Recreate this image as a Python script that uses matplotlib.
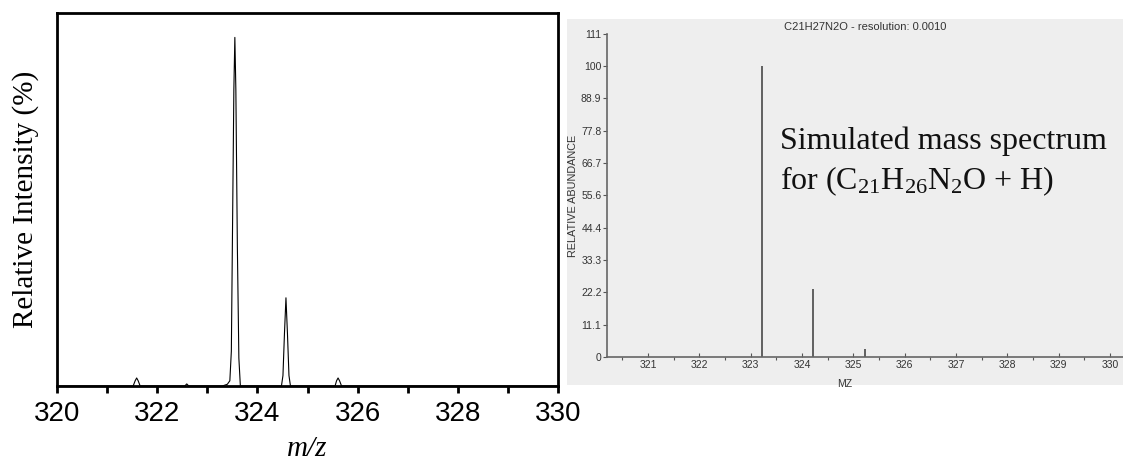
import matplotlib
matplotlib.use("Agg")
import matplotlib.pyplot as plt
from matplotlib.patches import Rectangle
from matplotlib.ticker import MultipleLocator

plt.rcParams['mathtext.fontset'] = 'custom'
plt.rcParams['mathtext.rm'] = 'Liberation Serif'
plt.rcParams['mathtext.it'] = 'Liberation Serif:italic'

meas_mz = [320.0, 321.52, 321.56, 321.59, 321.62, 321.66,
           322.55, 322.59, 322.63,
           323.30, 323.40, 323.45, 323.48, 323.50, 323.53, 323.55, 323.57, 323.60, 323.63, 323.66,
           324.48, 324.51, 324.54, 324.57, 324.60, 324.63, 324.66,
           325.55, 325.58, 325.61, 325.64, 325.68, 330.0]
meas_int = [0.0, 0.0, 1.5, 2.3, 1.5, 0.0,
            0.0, 0.6, 0.0,
            0.0, 0.5, 1.5, 10.0, 40.0, 85.0, 100.0, 85.0, 40.0, 8.0, 0.0,
            0.0, 3.0, 15.0, 25.3, 15.0, 3.0, 0.0,
            0.0, 1.5, 2.3, 1.5, 0.0, 0.0]

# simulated isotope sticks (right)
sim_mz = [323.21, 324.21, 325.22]
sim_abund = [100.0, 23.4, 2.6]
sim_yticks = [0, 11.1, 22.2, 33.3, 44.4, 55.6, 66.7, 77.8, 88.9, 100, 111]
sim_ytick_labels = ['0', '11.1', '22.2', '33.3', '44.4', '55.6', '66.7', '77.8', '88.9', '100', '111']

W, H = 1123, 461
fig = plt.figure(figsize=(W / 100, H / 100), dpi=100)

# grey panel behind the simulated spectrum
fig.patches.append(Rectangle((567 / W, 1 - 385 / H), 556 / W, 366 / H,
                             transform=fig.transFigure, facecolor='#eeeeee',
                             edgecolor='none', zorder=-10))

# ---- left panel: measured spectrum
ax1 = fig.add_axes([57 / W, 1 - 386 / H, 501 / W, 373 / H])
ax1.plot(meas_mz, meas_int, color='black', lw=0.8)
ax1.set_xlim(320, 330)
ax1.set_ylim(0, 107)
ax1.set_yticks([])
ax1.xaxis.set_major_locator(MultipleLocator(2))
ax1.xaxis.set_minor_locator(MultipleLocator(1))
ax1.tick_params(axis='x', which='both', direction='out', width=2, length=5, pad=6)
for lab in ax1.get_xticklabels():
    lab.set_fontfamily('Liberation Sans')
    lab.set_fontsize(20)
for s in ax1.spines.values():
    s.set_linewidth(2)
ax1.set_xlabel('m/z', family='Liberation Serif', style='italic', fontsize=21, labelpad=6)
ax1.set_ylabel('Relative Intensity (%)', family='Liberation Serif', fontsize=21, labelpad=13)

# ---- right panel: simulated spectrum
ax2 = fig.add_axes([607 / W, 1 - 357 / H, 516 / W, 323 / H])
ax2.set_facecolor('none')
ax2.vlines(sim_mz, 0, sim_abund, color='#555555', lw=1.3)
ax2.set_xlim(320.2, 330.25)
ax2.set_ylim(0, 111)
ax2.set_yticks(sim_yticks)
ax2.set_yticklabels(sim_ytick_labels)
ax2.xaxis.set_major_locator(MultipleLocator(1))
ax2.xaxis.set_minor_locator(MultipleLocator(0.5))
ax2.tick_params(axis='both', which='major', labelsize=7.5, labelcolor='#333333',
                color='#555555', length=3, width=0.8, pad=1)
ax2.tick_params(axis='x', which='major', direction='in', pad=2)
ax2.tick_params(axis='x', which='minor', direction='out', length=2, width=0.8, color='#555555')
for lab in ax2.get_xticklabels() + ax2.get_yticklabels():
    lab.set_fontfamily('Liberation Sans')
for k in ['top', 'right']:
    ax2.spines[k].set_visible(False)
for k in ['left', 'bottom']:
    ax2.spines[k].set_color('#666666')
    ax2.spines[k].set_linewidth(1.2)
ax2.set_title('C21H27N2O - resolution: 0.0010', family='Liberation Sans',
              fontsize=8, color='#333333', pad=3)
ax2.set_xlabel('MZ', family='Liberation Sans', fontsize=7.5, color='#333333')
ax2.xaxis.set_label_coords((845 - 607) / 516, -0.068)
ax2.set_ylabel('RELATIVE ABUNDANCE', family='Liberation Sans', fontsize=7.8,
               color='#333333', labelpad=2)
ax2.text((780 - 607) / 516, (357 - 198) / 323,
         'Simulated mass spectrum\nfor (C$_{21}$H$_{26}$N$_{2}$O + H)',
         transform=ax2.transAxes, family='Liberation Serif', fontsize=23,
         color='#111111', va='bottom', ha='left', linespacing=1.35)

fig.savefig('out.png', dpi=100)
